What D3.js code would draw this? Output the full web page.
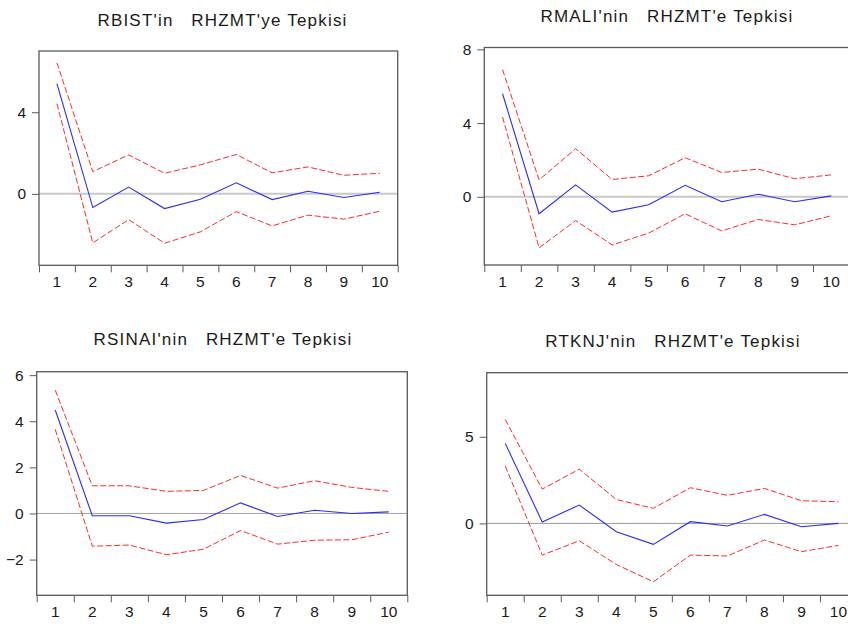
<!DOCTYPE html>
<html>
<head>
<meta charset="utf-8">
<script src="https://cdn.jsdelivr.net/npm/d3@7"></script>
<style>
  html, body { margin: 0; padding: 0; background: #fff; }
  svg { display: block; }
  .title { font-family: "Liberation Sans", Arial, sans-serif; font-size: 17px; fill: #1a1a1a; white-space: pre; letter-spacing: 1.2px; }
  .tick text { font-family: "Liberation Sans", Arial, sans-serif; font-size: 15.5px; fill: #1a1a1a; }
</style>
</head>
<body>
<svg id="chart" width="848" height="624"></svg>
<script>
// Impulse-response periods
const periods = ["1", "2", "3", "4", "5", "6", "7", "8", "9", "10"];

// RBIST response to RHZMT shock, with ±2 S.E. bands
const bistResponse = [5.40, -0.67, 0.33, -0.72, -0.26, 0.54, -0.28, 0.13, -0.18, 0.08];
const bistUpper    = [6.42, 1.09, 1.91, 1.01, 1.42, 1.93, 1.03, 1.32, 0.91, 1.01];
const bistLower    = [4.42, -2.40, -1.26, -2.42, -1.86, -0.87, -1.57, -1.04, -1.24, -0.85];
const bistTicks    = [0, 4];

// RMALI response
const maliResponse = [5.59, -0.92, 0.65, -0.83, -0.43, 0.62, -0.27, 0.14, -0.27, 0.05];
const maliUpper    = [6.90, 0.92, 2.61, 0.94, 1.14, 2.12, 1.32, 1.50, 0.98, 1.19];
const maliLower    = [4.33, -2.77, -1.29, -2.61, -1.97, -0.92, -1.85, -1.23, -1.52, -1.03];
const maliTicks    = [0, 4, 8];

// RSINAI response
const sinaiResponse = [4.49, -0.10, -0.10, -0.42, -0.26, 0.46, -0.13, 0.14, 0.00, 0.07];
const sinaiUpper    = [5.35, 1.20, 1.20, 0.96, 1.00, 1.65, 1.10, 1.42, 1.13, 0.96];
const sinaiLower    = [3.65, -1.42, -1.37, -1.79, -1.55, -0.74, -1.33, -1.16, -1.14, -0.81];
const sinaiTicks    = [-2, 0, 2, 4, 6];

// RTKNJ response
const tknjResponse = [4.62, 0.08, 1.06, -0.48, -1.21, 0.10, -0.15, 0.52, -0.19, 0.00];
const tknjUpper    = [6.00, 1.98, 3.13, 1.38, 0.87, 2.06, 1.62, 2.02, 1.31, 1.25];
const tknjLower    = [3.31, -1.83, -1.00, -2.37, -3.37, -1.83, -1.88, -0.96, -1.63, -1.27];
const tknjTicks    = [0, 5];

const titles = [
  "RBIST'in   RHZMT'ye Tepkisi",
  "RMALI'nin   RHZMT'e Tepkisi",
  "RSINAI'nin   RHZMT'e Tepkisi",
  "RTKNJ'nin   RHZMT'e Tepkisi"
];

// Panel geometry: frame box, value domain, title placement, zero-line style
const panels = [
  { title: titles[0], resp: bistResponse,  up: bistUpper,  lo: bistLower,  ticks: bistTicks,
    box: [39, 51, 397.7, 265.3],  domain: [-3.5, 7],     tx: 222.5, ty: 25.5,
    zero: ["#c8c8c8", 2] },
  { title: titles[1], resp: maliResponse,  up: maliUpper,  lo: maliLower,  ticks: maliTicks,
    box: [484.3, 47.5, 849.5, 265], domain: [-3.7, 8.1], tx: 667,   ty: 21.7,
    zero: ["#c8c8c8", 2] },
  { title: titles[2], resp: sinaiResponse, up: sinaiUpper, lo: sinaiLower, ticks: sinaiTicks,
    box: [36.7, 371.7, 407.3, 595.3], domain: [-3.55, 6.15], tx: 223, ty: 345,
    zero: ["#a0a0a0", 1] },
  { title: titles[3], resp: tknjResponse,  up: tknjUpper,  lo: tknjLower,  ticks: tknjTicks,
    box: [486.7, 372.7, 857, 595.3],  domain: [-4.15, 8.7], tx: 673, ty: 346.7,
    zero: ["#999999", 1] }
];

const svg = d3.select("#chart");

panels.forEach(p => {
  const [x0, y0, x1, y1] = p.box;
  const g = svg.append("g");

  const x = d3.scaleBand().domain(periods).range([x0, x1]).padding(0);
  const xEdge = d3.scaleLinear().domain([0, periods.length]).range([x0, x1]);
  const y = d3.scaleLinear().domain(p.domain).range([y1, y0]);
  const cx = (d, i) => x(periods[i]) + x.bandwidth() / 2;

  // zero reference line
  g.append("line")
    .attr("x1", x0).attr("x2", x1)
    .attr("y1", y(0)).attr("y2", y(0))
    .attr("stroke", p.zero[0]).attr("stroke-width", p.zero[1]);

  // confidence bands
  const line = d3.line().x(cx).y(d => y(d));
  [p.up, p.lo].forEach(band => {
    g.append("path").datum(band)
      .attr("d", line)
      .attr("fill", "none")
      .attr("stroke", "#ff2a2a")
      .attr("stroke-width", 1)
      .attr("stroke-dasharray", "6,2.5");
  });

  // response
  g.append("path").datum(p.resp)
    .attr("d", line)
    .attr("fill", "none")
    .attr("stroke", "#2a2aff")
    .attr("stroke-width", 1.1);

  // frame
  g.append("rect")
    .attr("x", x0).attr("y", y0)
    .attr("width", x1 - x0).attr("height", y1 - y0)
    .attr("fill", "none").attr("stroke", "#5a5a5a").attr("stroke-width", 1.3);

  // y axis
  const ya = g.append("g")
    .attr("transform", `translate(${x0},0)`)
    .call(d3.axisLeft(y).tickValues(p.ticks).tickSize(7).tickPadding(6).tickFormat(d3.format("d")));
  ya.select(".domain").remove();
  ya.selectAll(".tick line").attr("stroke", "#5a5a5a");

  // x axis: tick marks at period boundaries
  const xa = g.append("g")
    .attr("transform", `translate(0,${y1})`)
    .call(d3.axisBottom(xEdge).tickValues(d3.range(periods.length + 1)).tickSize(7).tickFormat(""));
  xa.select(".domain").remove();
  xa.selectAll(".tick line").attr("stroke", "#5a5a5a");

  // x axis: period labels centred in each band
  const xl = g.append("g")
    .attr("transform", `translate(0,${y1})`)
    .call(d3.axisBottom(x).tickSize(0).tickPadding(11));
  xl.select(".domain").remove();

  // title
  g.append("text")
    .attr("class", "title")
    .attr("x", p.tx).attr("y", p.ty)
    .attr("text-anchor", "middle")
    .text(p.title);
});
</script>
</body>
</html>
